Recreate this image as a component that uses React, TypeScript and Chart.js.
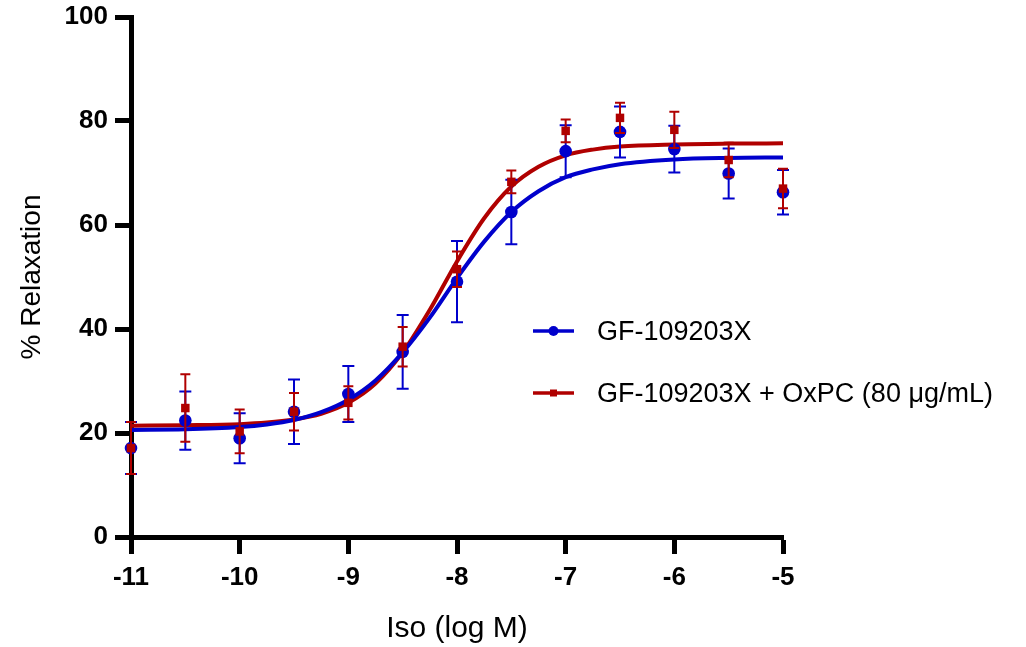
import React, { useEffect, useRef } from "react";
import { Chart, registerables } from "chart.js";

Chart.register(...registerables);

const doseLog = [-11, -10.5, -10, -9.5, -9, -8.5, -8, -7.5, -7, -6.5, -6, -5.5, -5];
const gfMean = [17.1, 22.4, 19.0, 24.1, 27.5, 35.6, 49.1, 62.5, 74.2, 77.9, 74.6, 69.9, 66.3];
const gfErr = [5.0, 5.6, 4.8, 6.2, 5.4, 7.1, 7.8, 6.2, 5.0, 4.9, 4.5, 4.8, 4.3];
const oxMean = [17.1, 24.8, 20.3, 24.1, 25.8, 36.6, 51.5, 68.3, 78.1, 80.6, 78.3, 72.5, 67.0];
const oxErr = [5.0, 6.5, 4.2, 3.6, 3.2, 3.8, 3.4, 2.2, 2.2, 2.9, 3.5, 3.3, 3.8];

const curveX = [-11, -10.5, -10, -9.75, -9.5, -9.25, -9, -8.75, -8.5, -8.25, -8, -7.75, -7.5, -7.25, -7, -6.75, -6.5, -6, -5.5, -5];
const gfCurve = [20.6, 20.7, 21.15, 21.65, 22.5, 24.0, 26.4, 30.1, 35.5, 42.2, 49.8, 56.8, 62.5, 66.5, 69.2, 70.7, 71.7, 72.6, 72.9, 73.0];
const oxCurve = [21.4, 21.5, 21.7, 22.0, 22.6, 23.7, 25.8, 29.5, 35.5, 43.7, 53.0, 61.3, 67.4, 71.2, 73.4, 74.5, 75.1, 75.5, 75.65, 75.7];

const xTicks = [-11, -10, -9, -8, -7, -6, -5];
const yTicks = [0, 20, 40, 60, 80, 100];

const legendLabels = ["GF-109203X", "GF-109203X + OxPC (80 \u03bcg/mL)"];

const BLUE = "rgb(0,0,204)";
const RED = "rgb(176,0,0)";
const FONT = "'Liberation Sans', Arial, sans-serif";

const errorBarPlugin = {
  id: "errorBars",
  beforeDatasetDraw(chart: any, args: any) {
    const ds: any = chart.data.datasets[args.index];
    if (!ds.errors) return;
    const ctx = chart.ctx;
    const xs = chart.scales.x;
    const ys = chart.scales.y;
    ctx.save();
    ctx.strokeStyle = ds.borderColor;
    ctx.lineWidth = 2;
    const cap = ds.capHalf;
    ds.data.forEach((p: any, i: number) => {
      const e = ds.errors[i];
      const px = xs.getPixelForValue(p.x);
      const top = ys.getPixelForValue(p.y + e);
      const bot = ys.getPixelForValue(p.y - e);
      ctx.beginPath();
      ctx.moveTo(px, top);
      ctx.lineTo(px, bot);
      ctx.moveTo(px - cap, top);
      ctx.lineTo(px + cap, top);
      ctx.moveTo(px - cap, bot);
      ctx.lineTo(px + cap, bot);
      ctx.stroke();
    });
    ctx.restore();
  },
};

const legendPlugin = {
  id: "customLegend",
  afterDraw(chart: any) {
    const ctx = chart.ctx;
    const items = [
      { label: legendLabels[0], color: BLUE, y: 331, marker: "circle" },
      { label: legendLabels[1], color: RED, y: 393, marker: "rect" },
    ];
    ctx.save();
    items.forEach((it) => {
      ctx.strokeStyle = it.color;
      ctx.fillStyle = it.color;
      ctx.lineWidth = 3.5;
      ctx.beginPath();
      ctx.moveTo(533, it.y);
      ctx.lineTo(574, it.y);
      ctx.stroke();
      ctx.beginPath();
      if (it.marker === "circle") {
        ctx.arc(553.5, it.y, 5, 0, Math.PI * 2);
      } else {
        ctx.rect(550, it.y - 3.5, 7, 7);
      }
      ctx.fill();
      ctx.fillStyle = "#000";
      ctx.font = `27px ${FONT}`;
      ctx.textBaseline = "middle";
      ctx.textAlign = "left";
      ctx.fillText(it.label, 597, it.y + 2);
    });
    ctx.restore();
  },
};

export default function App() {
  const ref = useRef<HTMLCanvasElement | null>(null);
  useEffect(() => {
    if (!ref.current) return;
    const chart = new Chart(ref.current, {
      type: "scatter",
      data: {
        datasets: [
          {
            label: legendLabels[1],
            data: doseLog.map((x, i) => ({ x, y: oxMean[i] })),
            errors: oxErr,
            capHalf: 5,
            showLine: false,
            pointStyle: "rect",
            pointRadius: 6,
            pointBackgroundColor: RED,
            pointBorderWidth: 0,
            borderColor: RED,
            backgroundColor: RED,
            clip: false,
          } as any,
          {
            label: legendLabels[0],
            data: doseLog.map((x, i) => ({ x, y: gfMean[i] })),
            errors: gfErr,
            capHalf: 6,
            showLine: false,
            pointStyle: "circle",
            pointRadius: 6.3,
            pointBackgroundColor: BLUE,
            pointBorderWidth: 0,
            borderColor: BLUE,
            backgroundColor: BLUE,
            clip: false,
          } as any,
          {
            label: "fit1",
            data: curveX.map((x, i) => ({ x, y: gfCurve[i] })),
            showLine: true,
            pointRadius: 0,
            borderColor: BLUE,
            borderWidth: 4,
            cubicInterpolationMode: "monotone",
            clip: false,
          } as any,
          {
            label: "fit2",
            data: curveX.map((x, i) => ({ x, y: oxCurve[i] })),
            showLine: true,
            pointRadius: 0,
            borderColor: RED,
            borderWidth: 4,
            cubicInterpolationMode: "monotone",
            clip: false,
          } as any,
        ],
      },
      options: {
        animation: false,
        responsive: false,
        events: [],
        layout: { padding: { left: 0, top: 17, right: 243, bottom: 0 } },
        plugins: {
          legend: { display: false },
          tooltip: { enabled: false },
        },
        scales: {
          x: {
            type: "linear",
            min: -11,
            max: -5,
            afterBuildTicks: (s: any) => {
              s.ticks = xTicks.map((v) => ({ value: v }));
            },
            afterFit: (s: any) => {
              s.height = 110;
              s.paddingLeft = 0;
              s.paddingRight = 0;
            },
            grid: {
              drawOnChartArea: false,
              drawTicks: true,
              tickLength: 17,
              tickWidth: 5,
              tickColor: "#000",
            },
            border: { display: true, color: "#000", width: 5 },
            ticks: {
              color: "#000",
              padding: 8,
              font: { family: FONT, size: 26, weight: "bold" },
              maxRotation: 0,
            },
            title: {
              display: true,
              text: "Iso (log M)",
              color: "#000",
              font: { family: FONT, size: 30 },
              padding: { top: 0, bottom: 0 },
            },
          },
          y: {
            type: "linear",
            min: 0,
            max: 100,
            afterBuildTicks: (s: any) => {
              s.ticks = yTicks.map((v) => ({ value: v }));
            },
            afterFit: (s: any) => {
              s.width = 131;
              s.paddingTop = 0;
              s.paddingBottom = 0;
            },
            grid: {
              drawOnChartArea: false,
              drawTicks: true,
              tickLength: 16,
              tickWidth: 5,
              tickColor: "#000",
            },
            border: { display: true, color: "#000", width: 5 },
            ticks: {
              color: "#000",
              padding: 7,
              font: { family: FONT, size: 26, weight: "bold" },
            },
            title: {
              display: true,
              text: "% Relaxation",
              color: "#000",
              font: { family: FONT, size: 28 },
              padding: { top: 15, bottom: 0 },
            },
          },
        },
      } as any,
      plugins: [errorBarPlugin, legendPlugin],
    });
    return () => chart.destroy();
  }, []);
  return (
    <div style={{ position: "absolute", left: 0, top: 0, width: 1026, height: 647, background: "#fff" }}>
      <canvas ref={ref} width={1026} height={647} />
    </div>
  );
}
